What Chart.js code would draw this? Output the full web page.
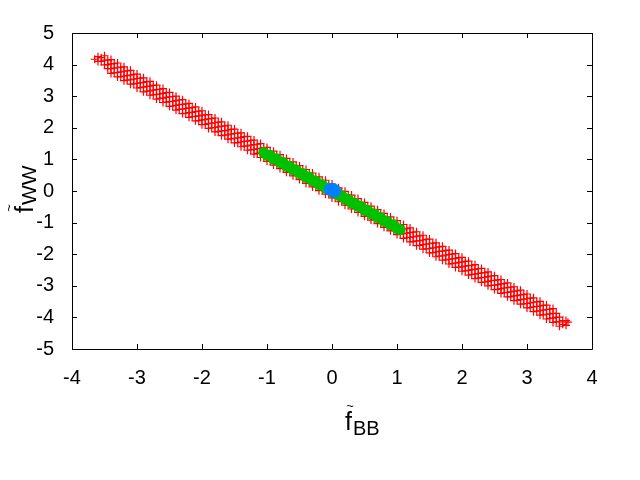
<!DOCTYPE html>
<html><head><meta charset="utf-8">
<script src="https://cdn.jsdelivr.net/npm/chart.js@4"></script>
<style>html,body{margin:0;padding:0;background:#fff}canvas{display:block}</style>
</head><body>
<canvas id="c" width="640" height="480"></canvas>
<script>
// tick values
const xTickValues = [-4, -3, -2, -1, 0, 1, 2, 3, 4];
const yTickValues = [-5, -4, -3, -2, -1, 0, 1, 2, 3, 4, 5];

// red series (+ markers), read column by column: upper, middle, lower part of the band
const redX = [-3.65,-3.55,-3.45,-3.35,-3.25,-3.15,-3.05,-2.95,-2.85,-2.75,-2.65,-2.55,-2.45,-2.35,-2.25,-2.15,-2.05,-1.95,-1.85,-1.75,-1.65,-1.55,-1.45,-1.35,-1.25,-1.15,-1.05,-0.95,-0.85,-0.75,-0.65,-0.55,-0.45,-0.35,-0.25,-0.15,-0.05,
  0.05,0.15,0.25,0.35,0.45,0.55,0.65,0.75,0.85,0.95,1.05,1.15,1.25,1.35,1.45,1.55,1.65,1.75,1.85,1.95,2.05,2.15,2.25,2.35,2.45,2.55,2.65,2.75,2.85,2.95,3.05,3.15,3.25,3.35,3.45,3.55,3.63];
const redYHi = [null,4.22,4.14,4.03,3.92,3.80,3.69,3.57,3.46,3.34,3.22,3.11,2.99,2.88,2.76,2.64,2.53,2.41,2.30,2.18,2.06,1.95,1.83,1.72,1.60,1.48,1.37,1.25,1.14,1.02,0.90,0.79,0.67,0.56,0.44,0.32,0.21,
  0.09,-0.02,-0.14,-0.26,-0.37,-0.49,-0.61,-0.72,-0.84,-0.95,-1.07,-1.19,-1.30,-1.42,-1.53,-1.65,-1.77,-1.88,-2.00,-2.11,-2.23,-2.35,-2.46,-2.58,-2.69,-2.81,-2.93,-3.04,-3.16,-3.27,-3.39,-3.51,-3.62,-3.74,-3.87,null,null];
const redYMid = [4.17,4.10,4.00,3.89,3.77,3.65,3.54,3.42,3.31,3.19,3.07,2.96,2.84,2.73,2.61,2.49,2.38,2.26,2.15,2.03,1.91,1.80,1.68,1.57,1.45,1.33,1.22,1.10,0.99,0.87,0.75,0.64,0.52,0.41,0.29,0.17,0.06,
  -0.06,-0.17,-0.29,-0.41,-0.52,-0.64,-0.75,-0.87,-0.99,-1.10,-1.22,-1.33,-1.45,-1.57,-1.68,-1.80,-1.91,-2.03,-2.15,-2.26,-2.38,-2.49,-2.61,-2.73,-2.84,-2.96,-3.07,-3.19,-3.31,-3.42,-3.54,-3.65,-3.77,-3.89,-4.00,-4.10,-4.15];
const redYLo = [null,null,3.87,3.74,3.62,3.51,3.39,3.27,3.16,3.04,2.93,2.81,2.69,2.58,2.46,2.35,2.23,2.11,2.00,1.88,1.77,1.65,1.53,1.42,1.30,1.19,1.07,0.95,0.84,0.72,0.61,0.49,0.37,0.26,0.14,0.02,-0.09,
  -0.21,-0.32,-0.44,-0.56,-0.67,-0.79,-0.90,-1.02,-1.14,-1.25,-1.37,-1.48,-1.60,-1.72,-1.83,-1.95,-2.06,-2.18,-2.30,-2.41,-2.53,-2.64,-2.76,-2.88,-2.99,-3.11,-3.22,-3.34,-3.46,-3.57,-3.69,-3.80,-3.92,-4.03,-4.14,-4.22,null];

// red series, in-between columns (staggered rows: top edge, upper, lower, bottom edge)
const redX2 = [-3.6,-3.5,-3.4,-3.3,-3.2,-3.1,-3.0,-2.9,-2.8,-2.7,-2.6,-2.5,-2.4,-2.3,-2.2,-2.1,-2.0,-1.9,-1.8,-1.7,-1.6,-1.5,-1.4,-1.3,-1.2,-1.1,-1.0,-0.9,-0.8,-0.7,-0.6,-0.5,-0.4,-0.3,-0.2,-0.1,0.0,
  0.1,0.2,0.3,0.4,0.5,0.6,0.7,0.8,0.9,1.0,1.1,1.2,1.3,1.4,1.5,1.6,1.7,1.8,1.9,2.0,2.1,2.2,2.3,2.4,2.5,2.6,2.7,2.8,2.9,3.0,3.1,3.2,3.3,3.4,3.5,3.6];
const redY2Top = [null,4.28,4.16,4.05,3.93,3.82,3.70,3.58,3.47,3.35,3.24,3.12,3.00,2.89,2.77,2.66,2.54,2.42,2.31,2.19,2.08,1.96,1.84,1.73,1.61,1.50,1.38,1.26,1.15,1.03,0.92,0.80,0.68,0.57,0.45,0.34,0.22,
  0.10,-0.01,-0.13,-0.24,-0.36,-0.48,-0.59,-0.71,-0.82,-0.94,-1.06,-1.17,-1.29,-1.40,-1.52,-1.64,-1.75,-1.87,-1.98,-2.10,-2.22,-2.33,-2.45,-2.56,-2.68,-2.80,-2.91,-3.03,-3.14,-3.26,-3.38,-3.49,-3.61,-3.72,null,null];
const redY2Hi = [4.25,4.14,4.02,3.90,3.79,3.67,3.56,3.44,3.32,3.21,3.09,2.98,2.86,2.74,2.63,2.51,2.40,2.28,2.16,2.05,1.93,1.82,1.70,1.58,1.47,1.35,1.24,1.12,1.00,0.89,0.77,0.66,0.54,0.42,0.31,0.19,0.08,
  -0.04,-0.16,-0.27,-0.39,-0.51,-0.62,-0.74,-0.85,-0.97,-1.09,-1.20,-1.32,-1.43,-1.55,-1.67,-1.78,-1.90,-2.01,-2.13,-2.25,-2.36,-2.48,-2.59,-2.71,-2.83,-2.94,-3.06,-3.17,-3.29,-3.41,-3.52,-3.64,-3.75,-3.87,-3.99,-4.10];
const redY2Lo = [4.10,3.99,3.87,3.75,3.64,3.52,3.41,3.29,3.17,3.06,2.94,2.83,2.71,2.59,2.48,2.36,2.25,2.13,2.01,1.90,1.78,1.67,1.55,1.43,1.32,1.20,1.09,0.97,0.85,0.74,0.62,0.51,0.39,0.27,0.16,0.04,-0.08,
  -0.19,-0.31,-0.42,-0.54,-0.66,-0.77,-0.89,-1.00,-1.12,-1.24,-1.35,-1.47,-1.58,-1.70,-1.82,-1.93,-2.05,-2.16,-2.28,-2.40,-2.51,-2.63,-2.74,-2.86,-2.98,-3.09,-3.21,-3.32,-3.44,-3.56,-3.67,-3.79,-3.90,-4.02,-4.14,-4.25];
const redY2Bot = [null,null,3.72,3.61,3.49,3.38,3.26,3.14,3.03,2.91,2.80,2.68,2.56,2.45,2.33,2.22,2.10,1.98,1.87,1.75,1.64,1.52,1.40,1.29,1.17,1.06,0.94,0.82,0.71,0.59,0.48,0.36,0.24,0.13,0.01,-0.10,-0.22,
  -0.34,-0.45,-0.57,-0.68,-0.80,-0.92,-1.03,-1.15,-1.26,-1.38,-1.50,-1.61,-1.73,-1.84,-1.96,-2.08,-2.19,-2.31,-2.42,-2.54,-2.66,-2.77,-2.89,-3.00,-3.12,-3.24,-3.35,-3.47,-3.58,-3.70,-3.82,-3.93,-4.05,-4.16,-4.28,null];

// green series
const greenX = [-1.05,-1.00,-0.95,-0.90,-0.85,-0.80,-0.75,-0.70,-0.65,-0.60,-0.55,-0.50,-0.45,-0.40,-0.35,-0.30,-0.25,-0.20,-0.15,-0.10,-0.05,0.00,
  0.05,0.10,0.15,0.20,0.25,0.30,0.35,0.40,0.45,0.50,0.55,0.60,0.65,0.70,0.75,0.80,0.85,0.90,0.95,1.00,1.05];
const greenY = [1.22,1.13,1.13,1.01,1.02,0.90,0.90,0.78,0.78,0.67,0.67,0.55,0.55,0.43,0.44,0.32,0.32,0.20,0.20,0.09,0.09,-0.03,
  -0.03,-0.14,-0.14,-0.26,-0.26,-0.38,-0.38,-0.49,-0.49,-0.61,-0.61,-0.72,-0.72,-0.84,-0.84,-0.96,-0.96,-1.07,-1.07,-1.19,-1.22];

// blue series
const blueX = [-0.035, 0.01, 0.05, 0.01, -0.04, 0.055, 0.01];
const blueY = [0.08, 0.09, 0.04, 0.03, 0.03, -0.02, -0.02];

function toPoints(xs, ys) {
  const out = [];
  xs.forEach((x, i) => { if (ys[i] !== null) out.push({ x: x, y: ys[i] }); });
  return out;
}
const redPoints = [].concat(toPoints(redX, redYHi), toPoints(redX, redYMid), toPoints(redX, redYLo),
                            toPoints(redX2, redY2Top), toPoints(redX2, redY2Hi), toPoints(redX2, redY2Lo),
                            toPoints(redX2, redY2Bot));
const greenPoints = toPoints(greenX, greenY);
const bluePoints = toPoints(blueX, blueY);

const FONT = "'Liberation Sans', Arial, Helvetica, sans-serif";

const framePlugin = {
  id: 'frame',
  afterDraw(chart) {
    const ctx = chart.ctx;
    const a = chart.chartArea;
    const xs = chart.scales.x, ys = chart.scales.y;
    ctx.save();
    ctx.strokeStyle = '#000';
    ctx.lineWidth = 1;
    ctx.beginPath();
    ctx.rect(a.left + 0.5, a.top + 0.5, a.right - a.left, a.bottom - a.top);
    const L = 5;
    xTickValues.forEach(v => {
      const p = Math.round(xs.getPixelForValue(v)) + 0.5;
      ctx.moveTo(p, a.bottom); ctx.lineTo(p, a.bottom - L);
      ctx.moveTo(p, a.top); ctx.lineTo(p, a.top + L);
    });
    yTickValues.forEach(v => {
      const p = Math.round(ys.getPixelForValue(v)) + 0.5;
      ctx.moveTo(a.left, p); ctx.lineTo(a.left + L, p);
      ctx.moveTo(a.right, p); ctx.lineTo(a.right - L, p);
    });
    ctx.stroke();

    // axis titles
    ctx.fillStyle = '#000';
    ctx.textBaseline = 'alphabetic';
    ctx.textAlign = 'left';
    ctx.font = '25px ' + FONT;
    ctx.fillText('f', 345, 430);
    ctx.font = '20px ' + FONT;
    ctx.fillText('BB', 353, 435);
    ctx.textAlign = 'center';
    ctx.font = '13px ' + FONT;
    ctx.fillText('~', 350, 410);

    ctx.translate(33, 213);
    ctx.rotate(-Math.PI / 2);
    ctx.textAlign = 'left';
    ctx.font = '25px ' + FONT;
    ctx.fillText('f', 0, 0);
    ctx.font = '21px ' + FONT;
    ctx.fillText('WW', 8, 3);
    ctx.textAlign = 'center';
    ctx.font = '13px ' + FONT;
    ctx.fillText('~', 5, -20);
    ctx.restore();
  }
};

new Chart(document.getElementById('c'), {
  type: 'scatter',
  data: {
    datasets: [
      { label: 'blue', data: bluePoints, order: 1, pointStyle: 'circle', pointRadius: 5.5, pointBorderWidth: 0,
        backgroundColor: '#0080ff', borderColor: '#0080ff' },
      { label: 'green', data: greenPoints, order: 2, pointStyle: 'circle', pointRadius: 5.5, pointBorderWidth: 0,
        backgroundColor: '#00c000', borderColor: '#00c000' },
      { label: 'red', data: redPoints, order: 3, pointStyle: 'cross', pointRadius: 4, pointBorderWidth: 1.2,
        backgroundColor: '#ff0000', borderColor: '#ff0000' }
    ]
  },
  options: {
    responsive: false,
    animation: false,
    devicePixelRatio: 1,
    events: [],
    layout: { padding: { top: 33, right: 48, left: 0, bottom: 0 } },
    plugins: { legend: { display: false }, tooltip: { enabled: false } },
    scales: {
      x: {
        type: 'linear', min: -4, max: 4,
        afterBuildTicks: s => { s.ticks = xTickValues.map(v => ({ value: v })); },
        ticks: { font: { family: FONT, size: 20 }, color: '#000', padding: 17, maxRotation: 0, autoSkip: false,
                 callback: v => String(v) },
        grid: { display: false, drawTicks: false },
        border: { display: false },
        afterFit: s => { s.height = 131; }
      },
      y: {
        type: 'linear', min: -5, max: 5,
        afterBuildTicks: s => { s.ticks = yTickValues.map(v => ({ value: v })); },
        ticks: { font: { family: FONT, size: 20 }, color: '#000', padding: 18, autoSkip: false,
                 callback: v => String(v) },
        grid: { display: false, drawTicks: false },
        border: { display: false },
        afterFit: s => { s.width = 72; }
      }
    }
  },
  plugins: [framePlugin]
});
</script>
</body></html>
